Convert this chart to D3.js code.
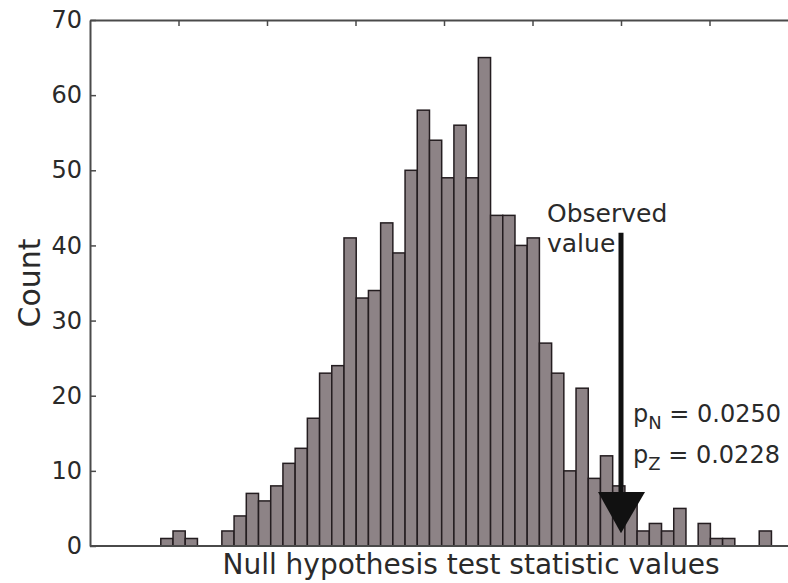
<!DOCTYPE html>
<html>
    <head>
        <title>Null hypothesis test statistic histogram</title>
        <style>
            body {
                margin: 0;
                background: #fff;
            }
            .HistContainer text {
                font-family: "DejaVu Sans", sans-serif;
                fill: #2a2a2a;
            }
        </style>
        <script src="https://cdnjs.cloudflare.com/ajax/libs/d3/7.0.4/d3.min.js" charset="utf-8"></script>
        <script>
            // histogram of the null distribution, one count per bin
            const binStart = 0.8;
            const binWidth = 0.138;
            const counts = [1, 2, 1, 0, 0, 2, 4, 7, 6, 8,
                            11, 13, 17, 23, 24, 41, 33, 34, 43, 39,
                            50, 58, 54, 49, 56, 49, 65, 44, 44, 40,
                            41, 27, 23, 10, 21, 9, 12, 8, 6, 2,
                            3, 2, 5, 0, 3, 1, 1, 0, 0, 2];
            const yTicks = [0, 10, 20, 30, 40, 50, 60, 70];
            const xTicks = [1, 2, 3, 4, 5, 6, 7];
            const observedValue = 6.0;
            const observedLabel = ["Observed", "value"];
            const pLabels = [["p", "N", " = 0.0250"], ["p", "Z", " = 0.0228"]];

            document.addEventListener('DOMContentLoaded', function(){
                const w = 788;
                const h = 583;

                const svg = d3.select(".HistContainer")
                    .append("svg")
                    .attr("width", w)
                    .attr("height", h);

                const xScale = d3.scaleLinear()
                    .domain([0, 8])
                    .range([90, 798]);

                const yScale = d3.scaleLinear()
                    .domain([0, 70])
                    .range([546, 20]);

                const bins = counts.map((c, i) => ({
                    x0: binStart + i * binWidth,
                    x1: binStart + (i + 1) * binWidth,
                    count: c
                }));

                // bars
                svg.selectAll("rect.bar")
                    .data(bins.filter(b => b.count > 0))
                    .enter()
                    .append("rect")
                    .attr("class", "bar")
                    .attr("x", d => xScale(d.x0))
                    .attr("y", d => yScale(d.count))
                    .attr("width", d => xScale(d.x1) - xScale(d.x0))
                    .attr("height", d => yScale(0) - yScale(d.count))
                    .attr("fill", "#8d8386")
                    .attr("stroke", "#241d20")
                    .attr("stroke-width", 1.5);

                // axes: left with labels, top with inward ticks only
                const yAxis = d3.axisLeft(yScale)
                    .tickValues(yTicks)
                    .tickSizeInner(-6)
                    .tickSizeOuter(0)
                    .tickPadding(8);

                const gy = svg.append("g")
                    .attr("transform", "translate(" + xScale(0) + ",0)")
                    .call(yAxis);
                gy.select(".domain").attr("stroke", "#4a4a4a").attr("stroke-width", 2);
                gy.selectAll(".tick line").attr("stroke", "#4a4a4a").attr("stroke-width", 1.5);
                gy.selectAll(".tick text")
                    .style("font-size", "24px")
                    .style("font-family", "DejaVu Sans, sans-serif")
                    .attr("fill", "#2a2a2a");

                const xTop = d3.axisTop(xScale)
                    .tickValues(xTicks)
                    .tickSizeInner(-6)
                    .tickSizeOuter(0)
                    .tickFormat("");

                const gt = svg.append("g")
                    .attr("transform", "translate(0," + yScale(70) + ")")
                    .call(xTop);
                gt.select(".domain").attr("stroke", "#4a4a4a").attr("stroke-width", 2);
                gt.selectAll(".tick line").attr("stroke", "#4a4a4a").attr("stroke-width", 1.5);

                svg.append("line")
                    .attr("x1", xScale(0)).attr("x2", xScale(8))
                    .attr("y1", yScale(0)).attr("y2", yScale(0))
                    .attr("stroke", "#4a4a4a")
                    .attr("stroke-width", 2);

                // axis titles
                svg.append("text")
                    .attr("x", 471)
                    .attr("y", 574)
                    .attr("text-anchor", "middle")
                    .style("font-size", "28px")
                    .text("Null hypothesis test statistic values");

                svg.append("text")
                    .attr("transform", "translate(40," + yScale(35) + ") rotate(-90)")
                    .attr("text-anchor", "middle")
                    .style("font-size", "30px")
                    .text("Count");

                // observed value arrow
                const ax = xScale(observedValue);
                svg.append("line")
                    .attr("x1", ax).attr("x2", ax)
                    .attr("y1", yScale(41.7)).attr("y2", yScale(7))
                    .attr("stroke", "#111")
                    .attr("stroke-width", 5);
                svg.append("path")
                    .attr("d", "M" + (ax - 23) + "," + yScale(7.2) +
                               "L" + (ax + 24) + "," + yScale(7.2) +
                               "L" + ax + "," + yScale(1.7) + "Z")
                    .attr("fill", "#111");

                svg.selectAll("text.obs")
                    .data(observedLabel)
                    .enter()
                    .append("text")
                    .attr("class", "obs")
                    .attr("x", 547)
                    .attr("y", (d, i) => 222 + i * 30)
                    .style("font-size", "25px")
                    .text(d => d);

                // p-values with subscripts
                pLabels.forEach((p, i) => {
                    const t = svg.append("text")
                        .attr("x", 633)
                        .attr("y", 422 + i * 41)
                        .style("font-size", "24px");
                    t.append("tspan").text(p[0]);
                    t.append("tspan").attr("dy", 7).style("font-size", "18px").text(p[1]);
                    t.append("tspan").attr("dy", -7).text(p[2]);
                });
            });
        </script>
    </head>
    <body>
        <div class="HistContainer"></div>
    </body>
</html>
